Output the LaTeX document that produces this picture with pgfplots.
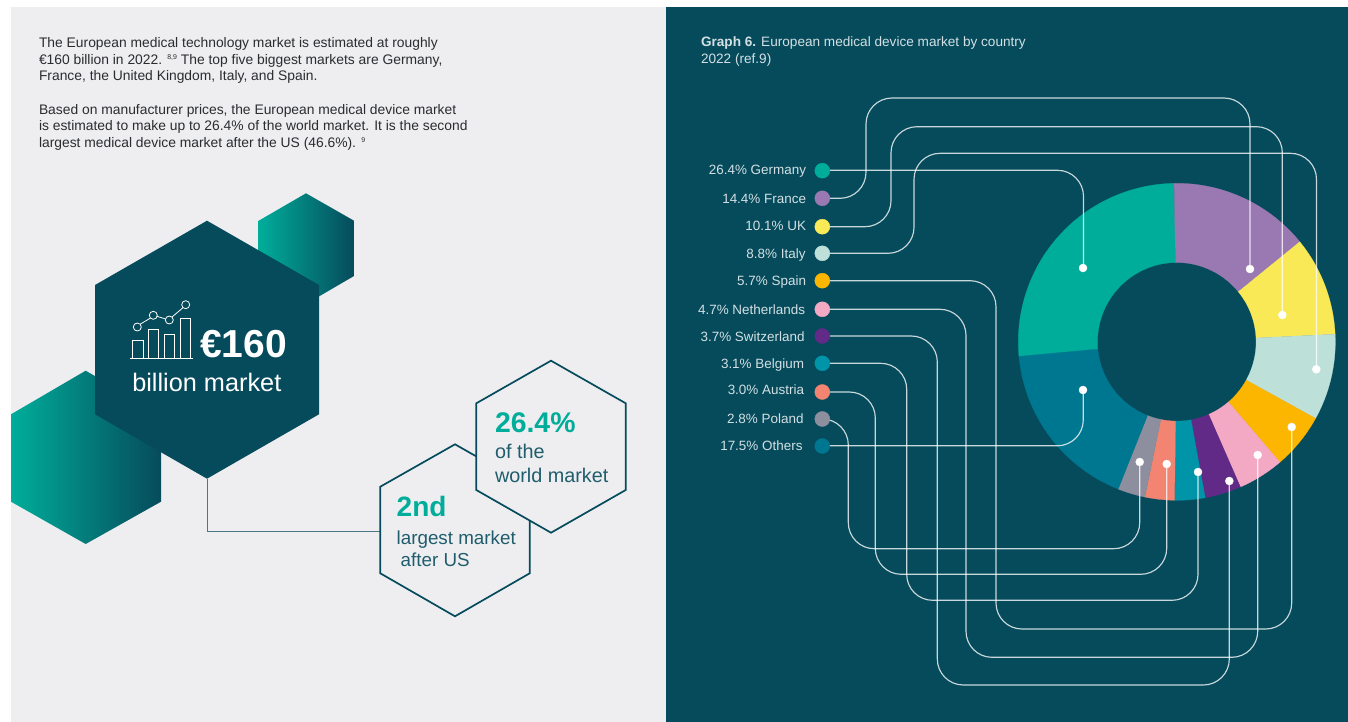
\documentclass[border=0pt]{standalone}
\usepackage{pgfplots}
\usepackage{pgfplotstable}
\usepackage{fontspec}
\setmainfont{Liberation Sans}
\pgfplotsset{compat=1.18}

\definecolor{panelgrey}{HTML}{EEEEF1}
\definecolor{paneldark}{HTML}{064B5C}
\definecolor{bodytext}{HTML}{2A2C2E}
\definecolor{lighttext}{HTML}{D3E0E3}
\definecolor{tealmain}{HTML}{00AD9A}
\definecolor{tealmid}{HTML}{009C8E}
\definecolor{cGermany}{HTML}{00AD9A}
\definecolor{cFrance}{HTML}{9A79B3}
\definecolor{cUK}{HTML}{F9E956}
\definecolor{cItaly}{HTML}{BDE0D9}
\definecolor{cSpain}{HTML}{FDB600}
\definecolor{cNetherlands}{HTML}{F3A8C3}
\definecolor{cSwitzerland}{HTML}{612A86}
\definecolor{cBelgium}{HTML}{0094A9}
\definecolor{cAustria}{HTML}{F28471}
\definecolor{cPoland}{HTML}{8D8F9E}
\definecolor{cOthers}{HTML}{007790}

% Market shares by country, with the legend dot row and label position of each
\pgfplotstableread{
name        share col          doty  baseline labelx
Germany     26.4  cGermany     170.7 174.5    806.0
France      14.4  cFrance      198.3 204.0    806.0
UK          10.1  cUK          226.7 230.7    806.0
Italy       8.8   cItaly       253.3 258.0    805.5
Spain       5.7   cSpain       280.7 285.0    806.0
Netherlands 4.7   cNetherlands 309.3 314.3    805.0
Switzerland 3.7   cSwitzerland 336.0 341.0    804.5
Belgium     3.1   cBelgium     363.3 368.0    804.0
Austria     3.0   cAustria     392.0 394.0    804.0
Poland      2.8   cPoland      419.0 423.3    803.5
Others      17.5  cOthers      446.0 450.7    802.5
}\sharetable

\def\cx{1176.8}
\def\cy{341.8}
\def\Rout{158.5}
\def\Rin{79.3}

\newcommand{\fs}[1]{\fontsize{#1}{#1}\selectfont}

\begin{document}
\begin{tikzpicture}[every node/.style={inner sep=0pt, outer sep=0pt}]
\begin{axis}[
  scale only axis, width=1348pt, height=722pt,
  xmin=0, xmax=1348, ymin=0, ymax=722, y dir=reverse,
  hide axis, clip=false,
  leader/.style={draw=white, draw opacity=0.78, line width=1.15pt, mark=none, rounded corners=26pt},
  enddot/.style={only marks, mark=*, mark size=4pt, color=white},
]
% Page and panels
\fill[white] (axis cs:0,0) rectangle (axis cs:1348,722);
\fill[panelgrey] (axis cs:11,7) rectangle (axis cs:666,722);
\fill[paneldark] (axis cs:666,7) rectangle (axis cs:1348,722);

% Introductory text
\begin{scope}[every node/.append style={anchor=base west, text=bodytext, font=\fs{13.85}}]
\node at (axis cs:39,47.5) {The European medical technology market is estimated at roughly};
\node at (axis cs:39,64.5) {€160 billion in 2022. \raisebox{4.5pt}{\fs{7}8,9} The top five biggest markets are Germany,};
\node at (axis cs:39,80.5) {France, the United Kingdom, Italy, and Spain.};
\node at (axis cs:39,114.5) {Based on manufacturer prices, the European medical device market};
\node at (axis cs:39,131) {is estimated to make up to 26.4\% of the world market. It is the second};
\node at (axis cs:39,147.5) {largest medical device market after the US (46.6\%). \raisebox{4.5pt}{\fs{7}9}};
\end{scope}

% Hexagon cluster on the left
\shade[left color=tealmain, middle color=tealmid, right color=paneldark]
  (axis cs:306,193.3) -- (axis cs:354,220.7) -- (axis cs:354,276) -- (axis cs:306,304)
  -- (axis cs:258.7,276) -- (axis cs:258.7,220.7) -- cycle;
\shade[left color=tealmain, middle color=tealmid, right color=paneldark]
  (axis cs:85.7,370.7) -- (axis cs:161,414.3) -- (axis cs:161,501.7) -- (axis cs:85.7,544)
  -- (axis cs:11,501.7) -- (axis cs:11,414.3) -- cycle;
\fill[paneldark]
  (axis cs:207,220.7) -- (axis cs:319,285) -- (axis cs:319,414.3) -- (axis cs:207,478.7)
  -- (axis cs:95,414.3) -- (axis cs:95,285) -- cycle;
\draw[color=paneldark!72!panelgrey, line width=1pt]
  (axis cs:207,478.7) -- (axis cs:207,531.8) -- (axis cs:380.3,531.8);

% Chart icon
\begin{scope}[white, line width=0.8pt]
\draw (axis cs:130,358) -- (axis cs:192.7,358);
\draw (axis cs:132.3,358) -- (axis cs:132.3,340) -- (axis cs:143,340) -- (axis cs:143,358);
\draw (axis cs:148.3,358) -- (axis cs:148.3,329.3) -- (axis cs:158.7,329.3) -- (axis cs:158.7,358);
\draw (axis cs:164.7,358) -- (axis cs:164.7,334.7) -- (axis cs:174.7,334.7) -- (axis cs:174.7,358);
\draw (axis cs:180.3,358) -- (axis cs:180.3,318.7) -- (axis cs:190.7,318.7) -- (axis cs:190.7,358);
\draw (axis cs:137.3,327) circle[radius=4pt];
\draw (axis cs:153.3,315.3) circle[radius=4pt];
\draw (axis cs:169.3,320) circle[radius=4pt];
\draw (axis cs:185.7,304.7) circle[radius=4pt];
\draw (axis cs:140.2,324.2) -- (axis cs:150.4,318.1);
\draw (axis cs:157.2,316.4) -- (axis cs:165.4,318.9);
\draw (axis cs:172,317) -- (axis cs:183,307.7);
\end{scope}
\node[anchor=base west, text=white, font=\fs{39}\bfseries] at (axis cs:200,357.3) {€160};
\node[anchor=base west, text=white, font=\fs{25.3}] at (axis cs:132.3,391.3) {billion market};

% Outlined hexagons
\draw[paneldark, line width=1.7pt, fill=panelgrey]
  (axis cs:455,444.3) -- (axis cs:529.7,486.7) -- (axis cs:529.7,573.3) -- (axis cs:455,616.3)
  -- (axis cs:380.3,573.3) -- (axis cs:380.3,486.7) -- cycle;
\draw[paneldark, line width=1.7pt, fill=panelgrey]
  (axis cs:551,360.7) -- (axis cs:625.7,403.3) -- (axis cs:625.7,490) -- (axis cs:551,532.7)
  -- (axis cs:476.3,490) -- (axis cs:476.3,403.3) -- cycle;
\node[anchor=base west, text=tealmain, font=\fs{28.4}\bfseries] at (axis cs:495,432) {26.4\%};
\node[anchor=base west, text=paneldark!90!white, font=\fs{19.8}] at (axis cs:495,458.7) {of the};
\node[anchor=base west, text=paneldark!90!white, font=\fs{19.8}] at (axis cs:495,482) {world market};
\node[anchor=base west, text=tealmain, font=\fs{28}\bfseries] at (axis cs:396.7,516) {2nd};
\node[anchor=base west, text=paneldark!90!white, font=\fs{18.8}] at (axis cs:396.7,544) {largest market};
\node[anchor=base west, text=paneldark!90!white, font=\fs{18.8}] at (axis cs:400.7,566.7) {after US};

% Graph heading
\node[anchor=base west, text=lighttext, font=\fs{13.6}] at (axis cs:701,46.7) {\textbf{Graph 6.} European medical device market by country};
\node[anchor=base west, text=lighttext, font=\fs{13.6}] at (axis cs:701,64) {2022 (ref.9)};

% Ring slices, one per row of the table; each spans 3.6 degrees per percentage point
\def\curang{186}
\pgfplotsforeachungrouped \i in {0,...,10}{%
  \pgfplotstablegetelem{\i}{share}\of\sharetable\let\val\pgfplotsretval
  \pgfplotstablegetelem{\i}{col}\of\sharetable\let\colname\pgfplotsretval
  \pgfmathsetmacro\endang{\curang-3.6*\val}%
  \pgfmathtruncatemacro\nn{ceil(3.6*\val/1.5)}%
  \def\pts{}%
  \pgfplotsforeachungrouped \k in {0,...,\nn}{%
    \pgfmathsetmacro\ang{\curang+(\endang-\curang)*\k/\nn}%
    \pgfmathsetmacro\px{\cx+\Rout*cos(\ang)}%
    \pgfmathsetmacro\py{\cy-\Rout*sin(\ang)}%
    \edef\pts{\pts (\px,\py)}%
  }%
  \pgfplotsforeachungrouped \k in {0,...,\nn}{%
    \pgfmathsetmacro\ang{\endang+(\curang-\endang)*\k/\nn}%
    \pgfmathsetmacro\px{\cx+\Rin*cos(\ang)}%
    \pgfmathsetmacro\py{\cy-\Rin*sin(\ang)}%
    \edef\pts{\pts (\px,\py)}%
  }%
  \edef\tmp{\noexpand\addplot[fill=\colname, draw=\colname, line width=0.25pt, mark=none] coordinates {\pts} --cycle;}%
  \tmp
  \let\curang\endang
}

% Leader lines from the legend dots to the slices
\addplot[leader] coordinates {(822.3,170.3) (1083.5,170.3) (1083.5,268)};
\addplot[leader] coordinates {(822.3,198.3) (866,198.3) (866,98) (1250,98) (1250,269)};
\addplot[leader] coordinates {(822.3,226.7) (891,226.7) (891,126.7) (1282.3,126.7) (1282.3,315)};
\addplot[leader] coordinates {(822.3,253.3) (914,253.3) (914,153.3) (1316.5,153.3) (1316.5,369.3)};
\addplot[leader] coordinates {(822.3,280.7) (996,280.7) (996,629) (1291.7,629) (1291.7,427)};
\addplot[leader] coordinates {(822.3,309.3) (966,309.3) (966,657.3) (1257.7,657.3) (1257.7,455)};
\addplot[leader] coordinates {(822.3,336) (937.3,336) (937.3,685) (1229.3,685) (1229.3,481)};
\addplot[leader] coordinates {(822.3,363.3) (906.7,363.3) (906.7,600.3) (1198,600.3) (1198,472)};
\addplot[leader] coordinates {(822.3,392) (875.3,392) (875.3,574.3) (1166.7,574.3) (1166.7,464)};
\addplot[leader] coordinates {(822.3,419) (848.3,419) (848.3,548.7) (1139.7,548.7) (1139.7,462)};
\addplot[leader] coordinates {(822.3,445.8) (1083.3,445.8) (1083.3,390)};

% End dots on the slices
\addplot[enddot] coordinates {(1083,268) (1250,269) (1282.3,315) (1316.3,369.3) (1291.7,427)
  (1257.7,455) (1229.3,481) (1198,472) (1166.7,464) (1139.7,462) (1083,390)};

% Legend dots and labels
\pgfplotsforeachungrouped \i in {0,...,10}{%
  \pgfplotstablegetelem{\i}{share}\of\sharetable\let\val\pgfplotsretval
  \pgfplotstablegetelem{\i}{name}\of\sharetable\let\cname\pgfplotsretval
  \pgfplotstablegetelem{\i}{col}\of\sharetable\let\colname\pgfplotsretval
  \pgfplotstablegetelem{\i}{doty}\of\sharetable\let\doty\pgfplotsretval
  \pgfplotstablegetelem{\i}{baseline}\of\sharetable\let\base\pgfplotsretval
  \pgfplotstablegetelem{\i}{labelx}\of\sharetable\let\labx\pgfplotsretval
  \edef\tmp{\noexpand\addplot[only marks, mark=*, mark size=7.5pt, color=\colname] coordinates {(822.3,\doty)};}%
  \tmp
  \edef\tmp{\noexpand\node[anchor=base east, text=lighttext, font=\noexpand\fs{13.45}] at (axis cs:\labx,\base) {\val\noexpand\% \cname};}%
  \tmp
}
\end{axis}
\end{tikzpicture}
\end{document}
